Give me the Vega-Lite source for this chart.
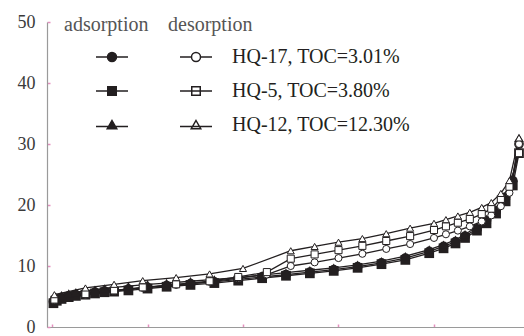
{
  "$schema": "https://vega.github.io/schema/vega-lite/v6.json",
  "width": 477,
  "height": 305,
  "autosize": {"type": "none"},
  "padding": {"left": 47, "top": 22, "right": 0, "bottom": 9},
  "background": "white",
  "config": {
    "font": "Liberation Serif",
    "view": {"stroke": null},
    "axis": {"grid": false, "title": null, "domainColor": "#9a9a9a", "domainWidth": 1.2, "tickColor": "#e58fbf", "tickWidth": 1.5, "labelFont": "Liberation Serif"}
  },
  "data": {
    "values": [
      {"sample": "HQ-17, TOC=3.01%", "branch": "adsorption", "p": 0.003, "v": 4.2},
      {"sample": "HQ-17, TOC=3.01%", "branch": "adsorption", "p": 0.01, "v": 4.5},
      {"sample": "HQ-17, TOC=3.01%", "branch": "adsorption", "p": 0.02, "v": 4.8},
      {"sample": "HQ-17, TOC=3.01%", "branch": "adsorption", "p": 0.035, "v": 5.1},
      {"sample": "HQ-17, TOC=3.01%", "branch": "adsorption", "p": 0.05, "v": 5.3},
      {"sample": "HQ-17, TOC=3.01%", "branch": "adsorption", "p": 0.07, "v": 5.5},
      {"sample": "HQ-17, TOC=3.01%", "branch": "adsorption", "p": 0.09, "v": 5.7},
      {"sample": "HQ-17, TOC=3.01%", "branch": "adsorption", "p": 0.11, "v": 5.9},
      {"sample": "HQ-17, TOC=3.01%", "branch": "adsorption", "p": 0.13, "v": 6.0},
      {"sample": "HQ-17, TOC=3.01%", "branch": "adsorption", "p": 0.16, "v": 6.2},
      {"sample": "HQ-17, TOC=3.01%", "branch": "adsorption", "p": 0.2, "v": 6.5},
      {"sample": "HQ-17, TOC=3.01%", "branch": "adsorption", "p": 0.24, "v": 6.8},
      {"sample": "HQ-17, TOC=3.01%", "branch": "adsorption", "p": 0.29, "v": 7.1},
      {"sample": "HQ-17, TOC=3.01%", "branch": "adsorption", "p": 0.34, "v": 7.4},
      {"sample": "HQ-17, TOC=3.01%", "branch": "adsorption", "p": 0.39, "v": 7.8},
      {"sample": "HQ-17, TOC=3.01%", "branch": "adsorption", "p": 0.44, "v": 8.2},
      {"sample": "HQ-17, TOC=3.01%", "branch": "adsorption", "p": 0.49, "v": 8.6},
      {"sample": "HQ-17, TOC=3.01%", "branch": "adsorption", "p": 0.54, "v": 9.0},
      {"sample": "HQ-17, TOC=3.01%", "branch": "adsorption", "p": 0.59, "v": 9.4},
      {"sample": "HQ-17, TOC=3.01%", "branch": "adsorption", "p": 0.64, "v": 9.9},
      {"sample": "HQ-17, TOC=3.01%", "branch": "adsorption", "p": 0.69, "v": 10.5},
      {"sample": "HQ-17, TOC=3.01%", "branch": "adsorption", "p": 0.74, "v": 11.3},
      {"sample": "HQ-17, TOC=3.01%", "branch": "adsorption", "p": 0.79, "v": 12.4},
      {"sample": "HQ-17, TOC=3.01%", "branch": "adsorption", "p": 0.82, "v": 13.2},
      {"sample": "HQ-17, TOC=3.01%", "branch": "adsorption", "p": 0.845, "v": 14.0},
      {"sample": "HQ-17, TOC=3.01%", "branch": "adsorption", "p": 0.865, "v": 14.9},
      {"sample": "HQ-17, TOC=3.01%", "branch": "adsorption", "p": 0.89, "v": 16.1},
      {"sample": "HQ-17, TOC=3.01%", "branch": "adsorption", "p": 0.91, "v": 17.4},
      {"sample": "HQ-17, TOC=3.01%", "branch": "adsorption", "p": 0.93, "v": 19.0},
      {"sample": "HQ-17, TOC=3.01%", "branch": "adsorption", "p": 0.95, "v": 21.3},
      {"sample": "HQ-17, TOC=3.01%", "branch": "adsorption", "p": 0.965, "v": 24.0},
      {"sample": "HQ-17, TOC=3.01%", "branch": "adsorption", "p": 0.978, "v": 30.0},
      {"sample": "HQ-5, TOC=3.80%", "branch": "adsorption", "p": 0.003, "v": 3.9},
      {"sample": "HQ-5, TOC=3.80%", "branch": "adsorption", "p": 0.01, "v": 4.3},
      {"sample": "HQ-5, TOC=3.80%", "branch": "adsorption", "p": 0.02, "v": 4.6},
      {"sample": "HQ-5, TOC=3.80%", "branch": "adsorption", "p": 0.035, "v": 4.9},
      {"sample": "HQ-5, TOC=3.80%", "branch": "adsorption", "p": 0.05, "v": 5.1},
      {"sample": "HQ-5, TOC=3.80%", "branch": "adsorption", "p": 0.07, "v": 5.3},
      {"sample": "HQ-5, TOC=3.80%", "branch": "adsorption", "p": 0.09, "v": 5.5},
      {"sample": "HQ-5, TOC=3.80%", "branch": "adsorption", "p": 0.11, "v": 5.7},
      {"sample": "HQ-5, TOC=3.80%", "branch": "adsorption", "p": 0.13, "v": 5.8},
      {"sample": "HQ-5, TOC=3.80%", "branch": "adsorption", "p": 0.16, "v": 6.0},
      {"sample": "HQ-5, TOC=3.80%", "branch": "adsorption", "p": 0.2, "v": 6.3},
      {"sample": "HQ-5, TOC=3.80%", "branch": "adsorption", "p": 0.24, "v": 6.6},
      {"sample": "HQ-5, TOC=3.80%", "branch": "adsorption", "p": 0.29, "v": 6.9},
      {"sample": "HQ-5, TOC=3.80%", "branch": "adsorption", "p": 0.34, "v": 7.2},
      {"sample": "HQ-5, TOC=3.80%", "branch": "adsorption", "p": 0.39, "v": 7.6},
      {"sample": "HQ-5, TOC=3.80%", "branch": "adsorption", "p": 0.44, "v": 8.0},
      {"sample": "HQ-5, TOC=3.80%", "branch": "adsorption", "p": 0.49, "v": 8.4},
      {"sample": "HQ-5, TOC=3.80%", "branch": "adsorption", "p": 0.54, "v": 8.8},
      {"sample": "HQ-5, TOC=3.80%", "branch": "adsorption", "p": 0.59, "v": 9.2},
      {"sample": "HQ-5, TOC=3.80%", "branch": "adsorption", "p": 0.64, "v": 9.7},
      {"sample": "HQ-5, TOC=3.80%", "branch": "adsorption", "p": 0.69, "v": 10.3},
      {"sample": "HQ-5, TOC=3.80%", "branch": "adsorption", "p": 0.74, "v": 11.0},
      {"sample": "HQ-5, TOC=3.80%", "branch": "adsorption", "p": 0.79, "v": 12.1},
      {"sample": "HQ-5, TOC=3.80%", "branch": "adsorption", "p": 0.82, "v": 12.9},
      {"sample": "HQ-5, TOC=3.80%", "branch": "adsorption", "p": 0.845, "v": 13.7},
      {"sample": "HQ-5, TOC=3.80%", "branch": "adsorption", "p": 0.865, "v": 14.6},
      {"sample": "HQ-5, TOC=3.80%", "branch": "adsorption", "p": 0.89, "v": 15.8},
      {"sample": "HQ-5, TOC=3.80%", "branch": "adsorption", "p": 0.91, "v": 17.0},
      {"sample": "HQ-5, TOC=3.80%", "branch": "adsorption", "p": 0.93, "v": 18.6},
      {"sample": "HQ-5, TOC=3.80%", "branch": "adsorption", "p": 0.95, "v": 20.6},
      {"sample": "HQ-5, TOC=3.80%", "branch": "adsorption", "p": 0.965, "v": 23.2},
      {"sample": "HQ-5, TOC=3.80%", "branch": "adsorption", "p": 0.978, "v": 28.5},
      {"sample": "HQ-12, TOC=12.30%", "branch": "adsorption", "p": 0.003, "v": 4.6},
      {"sample": "HQ-12, TOC=12.30%", "branch": "adsorption", "p": 0.01, "v": 4.9},
      {"sample": "HQ-12, TOC=12.30%", "branch": "adsorption", "p": 0.02, "v": 5.2},
      {"sample": "HQ-12, TOC=12.30%", "branch": "adsorption", "p": 0.035, "v": 5.5},
      {"sample": "HQ-12, TOC=12.30%", "branch": "adsorption", "p": 0.05, "v": 5.7},
      {"sample": "HQ-12, TOC=12.30%", "branch": "adsorption", "p": 0.07, "v": 5.9},
      {"sample": "HQ-12, TOC=12.30%", "branch": "adsorption", "p": 0.09, "v": 6.1},
      {"sample": "HQ-12, TOC=12.30%", "branch": "adsorption", "p": 0.11, "v": 6.3},
      {"sample": "HQ-12, TOC=12.30%", "branch": "adsorption", "p": 0.13, "v": 6.5},
      {"sample": "HQ-12, TOC=12.30%", "branch": "adsorption", "p": 0.16, "v": 6.7},
      {"sample": "HQ-12, TOC=12.30%", "branch": "adsorption", "p": 0.2, "v": 7.0},
      {"sample": "HQ-12, TOC=12.30%", "branch": "adsorption", "p": 0.24, "v": 7.2},
      {"sample": "HQ-12, TOC=12.30%", "branch": "adsorption", "p": 0.29, "v": 7.5},
      {"sample": "HQ-12, TOC=12.30%", "branch": "adsorption", "p": 0.34, "v": 7.8},
      {"sample": "HQ-12, TOC=12.30%", "branch": "adsorption", "p": 0.39, "v": 8.1},
      {"sample": "HQ-12, TOC=12.30%", "branch": "adsorption", "p": 0.44, "v": 8.5},
      {"sample": "HQ-12, TOC=12.30%", "branch": "adsorption", "p": 0.49, "v": 8.9},
      {"sample": "HQ-12, TOC=12.30%", "branch": "adsorption", "p": 0.54, "v": 9.3},
      {"sample": "HQ-12, TOC=12.30%", "branch": "adsorption", "p": 0.59, "v": 9.7},
      {"sample": "HQ-12, TOC=12.30%", "branch": "adsorption", "p": 0.64, "v": 10.2},
      {"sample": "HQ-12, TOC=12.30%", "branch": "adsorption", "p": 0.69, "v": 10.8},
      {"sample": "HQ-12, TOC=12.30%", "branch": "adsorption", "p": 0.74, "v": 11.6},
      {"sample": "HQ-12, TOC=12.30%", "branch": "adsorption", "p": 0.79, "v": 12.7},
      {"sample": "HQ-12, TOC=12.30%", "branch": "adsorption", "p": 0.82, "v": 13.5},
      {"sample": "HQ-12, TOC=12.30%", "branch": "adsorption", "p": 0.845, "v": 14.3},
      {"sample": "HQ-12, TOC=12.30%", "branch": "adsorption", "p": 0.865, "v": 15.2},
      {"sample": "HQ-12, TOC=12.30%", "branch": "adsorption", "p": 0.89, "v": 16.4},
      {"sample": "HQ-12, TOC=12.30%", "branch": "adsorption", "p": 0.91, "v": 17.7},
      {"sample": "HQ-12, TOC=12.30%", "branch": "adsorption", "p": 0.93, "v": 19.3},
      {"sample": "HQ-12, TOC=12.30%", "branch": "adsorption", "p": 0.95, "v": 21.5},
      {"sample": "HQ-12, TOC=12.30%", "branch": "adsorption", "p": 0.965, "v": 24.5},
      {"sample": "HQ-12, TOC=12.30%", "branch": "adsorption", "p": 0.978, "v": 31.0},
      {"sample": "HQ-17, TOC=3.01%", "branch": "desorption", "p": 0.978, "v": 30.0},
      {"sample": "HQ-17, TOC=3.01%", "branch": "desorption", "p": 0.958, "v": 22.0},
      {"sample": "HQ-17, TOC=3.01%", "branch": "desorption", "p": 0.94, "v": 19.8},
      {"sample": "HQ-17, TOC=3.01%", "branch": "desorption", "p": 0.92, "v": 18.3},
      {"sample": "HQ-17, TOC=3.01%", "branch": "desorption", "p": 0.9, "v": 17.3},
      {"sample": "HQ-17, TOC=3.01%", "branch": "desorption", "p": 0.875, "v": 16.5},
      {"sample": "HQ-17, TOC=3.01%", "branch": "desorption", "p": 0.85, "v": 15.8},
      {"sample": "HQ-17, TOC=3.01%", "branch": "desorption", "p": 0.825, "v": 15.2},
      {"sample": "HQ-17, TOC=3.01%", "branch": "desorption", "p": 0.8, "v": 14.6},
      {"sample": "HQ-17, TOC=3.01%", "branch": "desorption", "p": 0.75, "v": 13.6},
      {"sample": "HQ-17, TOC=3.01%", "branch": "desorption", "p": 0.7, "v": 12.8},
      {"sample": "HQ-17, TOC=3.01%", "branch": "desorption", "p": 0.65, "v": 12.0},
      {"sample": "HQ-17, TOC=3.01%", "branch": "desorption", "p": 0.6, "v": 11.3},
      {"sample": "HQ-17, TOC=3.01%", "branch": "desorption", "p": 0.55, "v": 10.6},
      {"sample": "HQ-17, TOC=3.01%", "branch": "desorption", "p": 0.5, "v": 10.0},
      {"sample": "HQ-17, TOC=3.01%", "branch": "desorption", "p": 0.45, "v": 8.6},
      {"sample": "HQ-17, TOC=3.01%", "branch": "desorption", "p": 0.39, "v": 8.0},
      {"sample": "HQ-17, TOC=3.01%", "branch": "desorption", "p": 0.33, "v": 7.4},
      {"sample": "HQ-17, TOC=3.01%", "branch": "desorption", "p": 0.26, "v": 6.9},
      {"sample": "HQ-17, TOC=3.01%", "branch": "desorption", "p": 0.19, "v": 6.4},
      {"sample": "HQ-17, TOC=3.01%", "branch": "desorption", "p": 0.13, "v": 5.9},
      {"sample": "HQ-17, TOC=3.01%", "branch": "desorption", "p": 0.07, "v": 5.3},
      {"sample": "HQ-17, TOC=3.01%", "branch": "desorption", "p": 0.005, "v": 4.4},
      {"sample": "HQ-5, TOC=3.80%", "branch": "desorption", "p": 0.978, "v": 28.5},
      {"sample": "HQ-5, TOC=3.80%", "branch": "desorption", "p": 0.958, "v": 23.0},
      {"sample": "HQ-5, TOC=3.80%", "branch": "desorption", "p": 0.94, "v": 21.0},
      {"sample": "HQ-5, TOC=3.80%", "branch": "desorption", "p": 0.92, "v": 19.4},
      {"sample": "HQ-5, TOC=3.80%", "branch": "desorption", "p": 0.9, "v": 18.5},
      {"sample": "HQ-5, TOC=3.80%", "branch": "desorption", "p": 0.875, "v": 17.7},
      {"sample": "HQ-5, TOC=3.80%", "branch": "desorption", "p": 0.85, "v": 17.1},
      {"sample": "HQ-5, TOC=3.80%", "branch": "desorption", "p": 0.825, "v": 16.5},
      {"sample": "HQ-5, TOC=3.80%", "branch": "desorption", "p": 0.8, "v": 15.9},
      {"sample": "HQ-5, TOC=3.80%", "branch": "desorption", "p": 0.75, "v": 14.9},
      {"sample": "HQ-5, TOC=3.80%", "branch": "desorption", "p": 0.7, "v": 14.1},
      {"sample": "HQ-5, TOC=3.80%", "branch": "desorption", "p": 0.65, "v": 13.3},
      {"sample": "HQ-5, TOC=3.80%", "branch": "desorption", "p": 0.6, "v": 12.6},
      {"sample": "HQ-5, TOC=3.80%", "branch": "desorption", "p": 0.55, "v": 11.9},
      {"sample": "HQ-5, TOC=3.80%", "branch": "desorption", "p": 0.5, "v": 11.2},
      {"sample": "HQ-5, TOC=3.80%", "branch": "desorption", "p": 0.45, "v": 9.0},
      {"sample": "HQ-5, TOC=3.80%", "branch": "desorption", "p": 0.39, "v": 8.2},
      {"sample": "HQ-5, TOC=3.80%", "branch": "desorption", "p": 0.33, "v": 7.5},
      {"sample": "HQ-5, TOC=3.80%", "branch": "desorption", "p": 0.26, "v": 7.0},
      {"sample": "HQ-5, TOC=3.80%", "branch": "desorption", "p": 0.19, "v": 6.5},
      {"sample": "HQ-5, TOC=3.80%", "branch": "desorption", "p": 0.13, "v": 6.0},
      {"sample": "HQ-5, TOC=3.80%", "branch": "desorption", "p": 0.07, "v": 5.4},
      {"sample": "HQ-5, TOC=3.80%", "branch": "desorption", "p": 0.005, "v": 4.5},
      {"sample": "HQ-12, TOC=12.30%", "branch": "desorption", "p": 0.978, "v": 31.0},
      {"sample": "HQ-12, TOC=12.30%", "branch": "desorption", "p": 0.958, "v": 24.0},
      {"sample": "HQ-12, TOC=12.30%", "branch": "desorption", "p": 0.94, "v": 21.9},
      {"sample": "HQ-12, TOC=12.30%", "branch": "desorption", "p": 0.92, "v": 20.4},
      {"sample": "HQ-12, TOC=12.30%", "branch": "desorption", "p": 0.9, "v": 19.6},
      {"sample": "HQ-12, TOC=12.30%", "branch": "desorption", "p": 0.875, "v": 18.8},
      {"sample": "HQ-12, TOC=12.30%", "branch": "desorption", "p": 0.85, "v": 18.2},
      {"sample": "HQ-12, TOC=12.30%", "branch": "desorption", "p": 0.825, "v": 17.6},
      {"sample": "HQ-12, TOC=12.30%", "branch": "desorption", "p": 0.8, "v": 17.0},
      {"sample": "HQ-12, TOC=12.30%", "branch": "desorption", "p": 0.75, "v": 16.2},
      {"sample": "HQ-12, TOC=12.30%", "branch": "desorption", "p": 0.7, "v": 15.3},
      {"sample": "HQ-12, TOC=12.30%", "branch": "desorption", "p": 0.65, "v": 14.5},
      {"sample": "HQ-12, TOC=12.30%", "branch": "desorption", "p": 0.6, "v": 13.9},
      {"sample": "HQ-12, TOC=12.30%", "branch": "desorption", "p": 0.55, "v": 13.2},
      {"sample": "HQ-12, TOC=12.30%", "branch": "desorption", "p": 0.5, "v": 12.5},
      {"sample": "HQ-12, TOC=12.30%", "branch": "desorption", "p": 0.4, "v": 9.6},
      {"sample": "HQ-12, TOC=12.30%", "branch": "desorption", "p": 0.33, "v": 8.7},
      {"sample": "HQ-12, TOC=12.30%", "branch": "desorption", "p": 0.26, "v": 8.1},
      {"sample": "HQ-12, TOC=12.30%", "branch": "desorption", "p": 0.19, "v": 7.6},
      {"sample": "HQ-12, TOC=12.30%", "branch": "desorption", "p": 0.13, "v": 7.0},
      {"sample": "HQ-12, TOC=12.30%", "branch": "desorption", "p": 0.07, "v": 6.4},
      {"sample": "HQ-12, TOC=12.30%", "branch": "desorption", "p": 0.005, "v": 5.3}
    ]
  },
  "encoding": {
    "x": {"field": "p", "type": "quantitative", "scale": {"domain": [-0.0105, 0.9885], "nice": false, "zero": false},
      "axis": {"values": [0, 0.2, 0.4, 0.6, 0.8], "labels": false, "tickSize": -3}},
    "y": {"field": "v", "type": "quantitative", "scale": {"domain": [0, 50], "nice": false},
      "axis": {"values": [0, 10, 20, 30, 40, 50], "tickSize": -3, "labelFontSize": 18, "labelColor": "#3a3a3a", "labelPadding": 15}}
  },
  "layer": [
    {
      "mark": {"type": "line", "color": "#231f20", "strokeWidth": 1.3},
      "encoding": {"detail": [{"field": "sample"}, {"field": "branch"}]}
    },
    {
      "transform": [{"filter": "datum.branch == 'adsorption'"}],
      "mark": {"type": "point", "filled": true, "color": "#231f20", "size": 95, "opacity": 1},
      "encoding": {"shape": {"field": "sample", "type": "nominal",
        "scale": {"domain": ["HQ-17, TOC=3.01%", "HQ-5, TOC=3.80%", "HQ-12, TOC=12.30%"], "range": ["circle", "square", "triangle-up"]}, "legend": null}}
    },
    {
      "transform": [{"filter": "datum.branch == 'desorption'"}],
      "mark": {"type": "point", "filled": false, "fill": "white", "stroke": "#231f20", "strokeWidth": 1, "size": 50, "opacity": 1},
      "encoding": {"shape": {"field": "sample", "type": "nominal",
        "scale": {"domain": ["HQ-17, TOC=3.01%", "HQ-5, TOC=3.80%", "HQ-12, TOC=12.30%"], "range": ["circle", "square", "triangle-up"]}, "legend": null}}
    },
    {
      "transform": [{"filter": "datum.branch == 'adsorption' && datum.p < 0"}],
      "mark": {"type": "point", "filled": false, "fill": "#231f20", "stroke": "#231f20", "opacity": 1},
      "encoding": {"shape": {"field": "sample", "type": "nominal",
        "scale": {"domain": ["HQ-17, TOC=3.01%", "HQ-5, TOC=3.80%", "HQ-12, TOC=12.30%"],
          "range": ["M-3.2,0L-0.9,0M0.9,0L3.2,0M-0.9,0A0.9,0.9 0 1,1 0.9,0A0.9,0.9 0 1,1 -0.9,0Z",
                    "M-3.2,0L3.2,0M-0.85,-0.85L0.85,-0.85L0.85,0.85L-0.85,0.85Z",
                    "M-3.2,0.3L3.2,0.3M0,-0.9L0.95,0.75L-0.95,0.75Z"]},
        "legend": {"title": "adsorption", "orient": "none", "legendX": 17, "legendY": -7, "symbolOffset": 38,
          "labelExpr": "' '", "symbolSize": 100, "rowPadding": 14, "titlePadding": 12,
          "titleFontSize": 20, "titleFontWeight": "normal", "titleColor": "#555", "titleFont": "Liberation Serif",
          "labelFontSize": 20, "labelFont": "Liberation Serif",
          "encode": {"symbols": {"update": {"fill": {"value": "#231f20"}, "stroke": {"value": "#231f20"}, "strokeWidth": {"value": 1.4}, "opacity": {"value": 1}}}}}}}
    },
    {
      "transform": [{"filter": "datum.branch == 'desorption' && datum.p < 0"}],
      "mark": {"type": "point", "filled": false, "fill": "white", "stroke": "#231f20", "opacity": 1},
      "encoding": {"shape": {"field": "sample", "type": "nominal",
        "scale": {"domain": ["HQ-17, TOC=3.01%", "HQ-5, TOC=3.80%", "HQ-12, TOC=12.30%"],
          "range": ["M-3.2,0L-0.9,0M0.9,0L3.2,0M-0.9,0A0.9,0.9 0 1,1 0.9,0A0.9,0.9 0 1,1 -0.9,0Z",
                    "M-3.2,0L3.2,0M-0.85,-0.85L0.85,-0.85L0.85,0.85L-0.85,0.85Z",
                    "M-3.2,0.3L3.2,0.3M0,-0.9L0.95,0.75L-0.95,0.75Z"]},
        "legend": {"title": "desorption", "orient": "none", "legendX": 121, "legendY": -7, "symbolOffset": 18,
          "labelOffset": 26, "symbolSize": 100, "rowPadding": 14, "titlePadding": 12,
          "titleFontSize": 20, "titleFontWeight": "normal", "titleColor": "#555", "titleFont": "Liberation Serif",
          "labelFontSize": 20, "labelFont": "Liberation Serif", "labelColor": "#231f20", "labelLimit": 300,
          "encode": {"symbols": {"update": {"fill": {"value": "white"}, "stroke": {"value": "#231f20"}, "strokeWidth": {"value": 1.2}, "opacity": {"value": 1}}}}}}}
    },
    {
      "data": {"values": [{"label": "(b)"}]},
      "mark": {"type": "text", "fontSize": 18, "color": "#333", "font": "Liberation Serif", "baseline": "middle"},
      "encoding": {"x": {"datum": 0.882}, "y": {"datum": 48.7}, "text": {"field": "label"}}
    }
  ],
  "resolve": {"scale": {"shape": "independent"}, "legend": {"shape": "independent"}}
}
